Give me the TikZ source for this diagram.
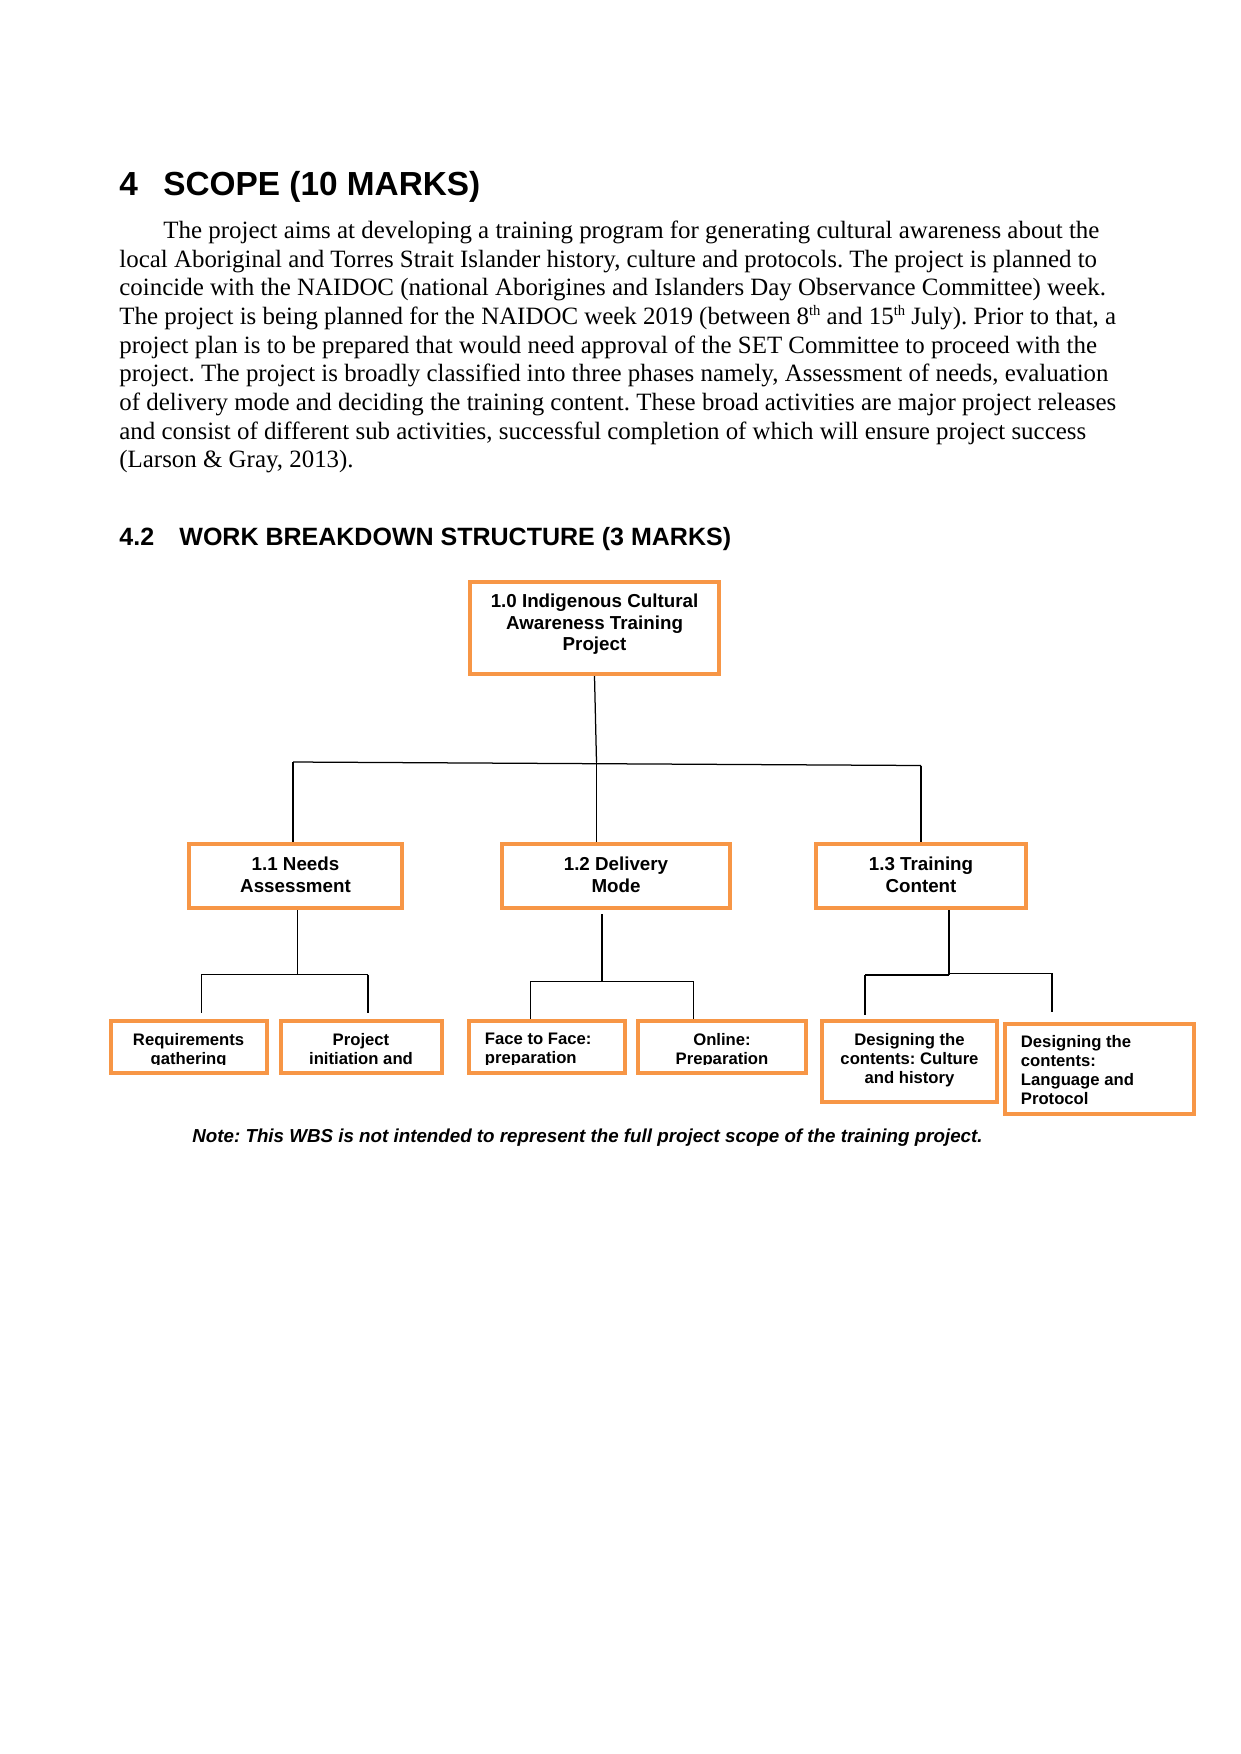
\documentclass[tikz,border=0pt]{standalone}
\usepackage{fontspec}
\setmainfont{Liberation Serif}
\newfontfamily\arialf{Liberation Sans}
\definecolor{wbsorange}{HTML}{F79646}
\newcommand\pxu{0.47968pt}
\newcommand\supth{\raisebox{4pt}{\fontsize{7pt}{7pt}\selectfont th}}
\tikzset{
  para/.style={anchor=base west, inner sep=0pt, font=\frenchspacing\fontsize{11.95pt}{13.8pt}\selectfont},
  headA/.style={anchor=base west, inner sep=0pt, font=\arialf\bfseries\fontsize{16pt}{18pt}\selectfont},
  headB/.style={anchor=base west, inner sep=0pt, font=\arialf\bfseries\fontsize{12pt}{14pt}\selectfont},
  wbsbox/.style={draw=wbsorange, line width=1.7pt, fill=white, inner sep=0pt},
  bigtext/.style={inner sep=0pt, anchor=north, align=center, font=\arialf\bfseries\fontsize{9pt}{10.45pt}\selectfont},
  leaftext/.style={inner sep=0pt, anchor=north, align=center, font=\arialf\bfseries\fontsize{8pt}{9.1pt}\selectfont},
  notetext/.style={anchor=base, inner sep=0pt, font=\frenchspacing\arialf\bfseries\itshape\fontsize{9pt}{10.4pt}\selectfont},
  conn/.style={draw=black, line width=0.6pt}
}
% box: name, x1, y1, x2, y2
\newcommand\wbsnode[5]{\node[wbsbox, minimum width={(#4-#2-3.5)*\pxu}, minimum height={(#5-#3-3.5)*\pxu}] (#1) at ({(#2+#4)/2},{(#3+#5)/2}) {};}
\begin{document}
\frenchspacing
\begin{tikzpicture}[x=0.47968pt,y=-0.47968pt]
\useasboundingbox[fill=white] (0,0) rectangle (1241,1754);

% headings
\node[headA] (h1n) at (119,195) {4};
\node[headA] (h1t) at (163,195) {SCOPE (10 MARKS)};

% paragraph
\node[para] (p1) at (163,238) {The project aims at developing a training program for generating cultural awareness about the};
\node[para] (p2) at (119,267) {local Aboriginal and Torres Strait Islander history, culture and protocols. The project is planned to};
\node[para] (p3) at (119,295.5) {coincide with the NAIDOC (national Aborigines and Islanders Day Observance Committee) week.};
\node[para] (p4) at (119,324) {The project is being planned for the NAIDOC week 2019 (between 8\supth{} and 15\supth{} July). Prior to that, a};
\node[para] (p5) at (119,353) {project plan is to be prepared that would need approval of the SET Committee to proceed with the};
\node[para] (p6) at (119,381.5) {project. The project is broadly classified into three phases namely, Assessment of needs, evaluation};
\node[para] (p7) at (119,410) {of delivery mode and deciding the training content. These broad activities are major project releases};
\node[para] (p8) at (119,439) {and consist of different sub activities, successful completion of which will ensure project success};
\node[para] (p9) at (119,467.5) {(Larson \& Gray, 2013).};

\node[headB] (h2n) at (119,545) {4.2};
\node[headB] (h2t) at (179,545) {WORK BREAKDOWN STRUCTURE (3 MARKS)};

% level 0 and 1 boxes
\wbsnode{root}{468}{580}{721}{676}
\wbsnode{n11}{187}{842}{404}{910}
\wbsnode{n12}{500}{842}{732}{910}
\wbsnode{n13}{814}{842}{1028}{910}
\node[bigtext] (roott) at (594.5,593.3) {1.0 Indigenous Cultural\\Awareness Training\\Project};
\node[bigtext] (n11t) at (295.5,856.6) {1.1 Needs\\Assessment};
\node[bigtext] (n12t) at (616,856.6) {1.2 Delivery\\Mode};
\node[bigtext] (n13t) at (921,856.6) {1.3 Training\\Content};

% level 2 boxes
\wbsnode{req}{109}{1019}{269}{1075}
\wbsnode{ini}{279}{1019}{444}{1075}
\wbsnode{f2f}{467}{1019}{627}{1075}
\wbsnode{onl}{636}{1019}{808}{1075}
\wbsnode{cul}{820}{1019}{999}{1104}
\wbsnode{lang}{1003}{1022}{1196}{1116}

\begin{scope}
  \clip (112,1025) rectangle (266,1064);
  \node[leaftext] (reqt) at (188.6,1033) {Requirements\\gathering};
\end{scope}
\begin{scope}
  \clip (282,1025) rectangle (441,1064);
  \node[leaftext] (init) at (361,1033) {Project\\initiation and};
\end{scope}
\begin{scope}
  \clip (470,1025) rectangle (624,1064);
  \node[leaftext, align=left, anchor=north west] (f2ft) at (484.5,1033) {Face to Face:\\preparation};
\end{scope}
\begin{scope}
  \clip (639,1025) rectangle (805,1064);
  \node[leaftext] (onlt) at (722,1033) {Online:\\Preparation};
\end{scope}
\node[leaftext] (cult) at (909.5,1033) {Designing the\\contents: Culture\\and history};
\node[leaftext, align=left, anchor=north west, font=\arialf\bfseries\fontsize{8pt}{9.2pt}\selectfont] (langt) at (1020.5,1034.7) {Designing the\\contents:\\Language and\\Protocol};

% connectors level 0 -> 1
\coordinate (j0) at (596.5,762);
\coordinate (b0l) at (293,762);
\coordinate (b0r) at (921,765.5);
\draw[conn] (root.south) -- (j0);
\draw[conn] (b0l) -- (b0r);
\draw[conn] (b0l) -- (b0l |- n11.north);
\draw[conn] (j0) -- (j0 |- n12.north);
\draw[conn] (b0r) -- (b0r |- n13.north);

% connectors 1.1
\coordinate (j1) at (297.5,974.5);
\coordinate (b1l) at (201.4,974.5);
\coordinate (b1r) at (368,974.5);
\coordinate (e1l) at (201.4,1013);
\coordinate (e1r) at (368,1013);
\draw[conn] (j1 |- n11.south) -- (j1);
\draw[conn] (b1l) -- (b1r);
\draw[conn] (b1l) -- (e1l);
\draw[conn] (b1r) -- (e1r);

% connectors 1.2
\coordinate (j2) at (602,981.7);
\coordinate (s2) at (602,914);
\coordinate (b2l) at (530.4,981.7);
\coordinate (b2r) at (693.8,981.7);
\draw[conn] (s2) -- (j2);
\draw[conn] (b2l) -- (b2r);
\draw[conn] (b2l) -- (b2l |- f2f.north);
\draw[conn] (b2r) -- (b2r |- onl.north);

% connectors 1.3
\coordinate (j3) at (949,975);
\coordinate (j3b) at (949,973.3);
\coordinate (b3l) at (865,975);
\coordinate (b3r) at (1052,973.3);
\coordinate (e3l) at (865,1015);
\coordinate (e3r) at (1052,1012);
\draw[conn] (j3 |- n13.south) -- (j3);
\draw[conn] (b3l) -- (j3);
\draw[conn] (j3b) -- (b3r);
\draw[conn] (b3l) -- (e3l);
\draw[conn] (b3r) -- (e3r);

% note
\node[notetext] (note) at (587.5,1142.7) {Note: This WBS is not intended to represent the full project scope of the training project.};
\end{tikzpicture}
\end{document}
